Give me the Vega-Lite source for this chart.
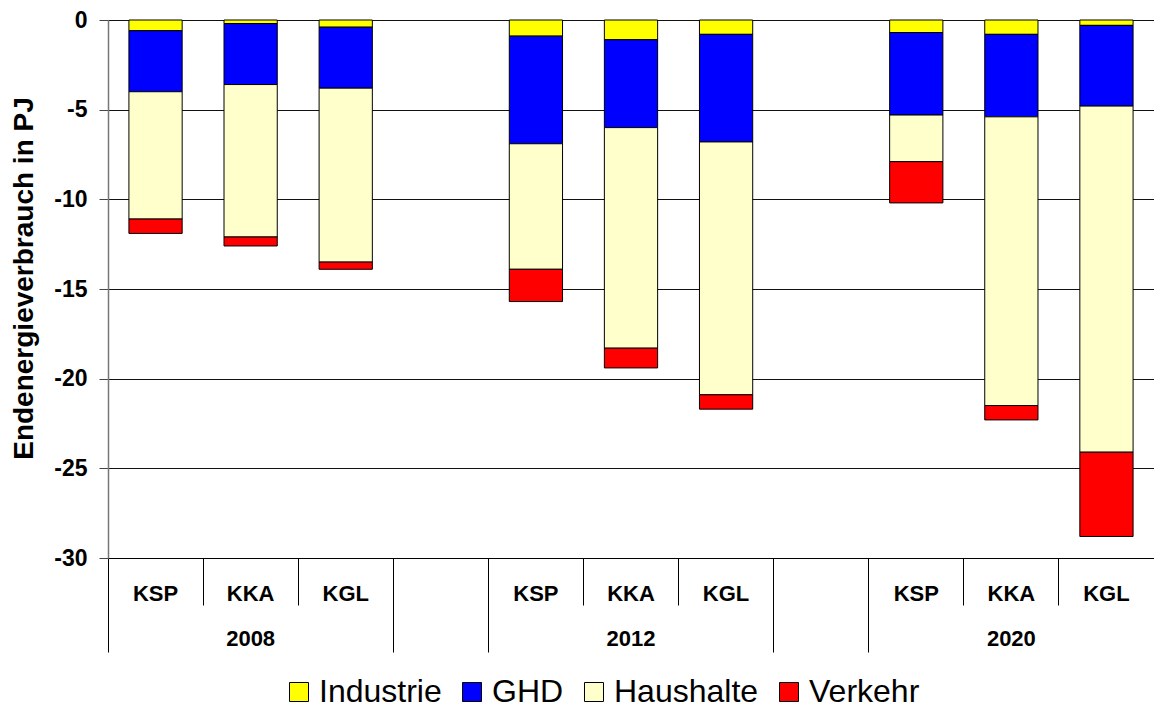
{
  "$schema": "https://vega.github.io/schema/vega-lite/v6.json",
  "width": 1046,
  "height": 538,
  "autosize": {"type": "none"},
  "padding": {"left": 108, "top": 20, "right": 0, "bottom": 149},
  "background": "white",
  "config": {
    "view": {"stroke": null},
    "font": "Liberation Sans",
    "axis": {"labelFont": "Liberation Sans", "titleFont": "Liberation Sans"}
  },
  "data": {
    "values": [
      {"slot": "2008 KSP", "sector": "Industrie", "ord": 1, "value": -0.6},
      {"slot": "2008 KSP", "sector": "GHD", "ord": 2, "value": -3.4},
      {"slot": "2008 KSP", "sector": "Haushalte", "ord": 3, "value": -7.1},
      {"slot": "2008 KSP", "sector": "Verkehr", "ord": 4, "value": -0.8},
      {"slot": "2008 KKA", "sector": "Industrie", "ord": 1, "value": -0.2},
      {"slot": "2008 KKA", "sector": "GHD", "ord": 2, "value": -3.4},
      {"slot": "2008 KKA", "sector": "Haushalte", "ord": 3, "value": -8.5},
      {"slot": "2008 KKA", "sector": "Verkehr", "ord": 4, "value": -0.5},
      {"slot": "2008 KGL", "sector": "Industrie", "ord": 1, "value": -0.4},
      {"slot": "2008 KGL", "sector": "GHD", "ord": 2, "value": -3.4},
      {"slot": "2008 KGL", "sector": "Haushalte", "ord": 3, "value": -9.7},
      {"slot": "2008 KGL", "sector": "Verkehr", "ord": 4, "value": -0.4},
      {"slot": "2012 KSP", "sector": "Industrie", "ord": 1, "value": -0.9},
      {"slot": "2012 KSP", "sector": "GHD", "ord": 2, "value": -6.0},
      {"slot": "2012 KSP", "sector": "Haushalte", "ord": 3, "value": -7.0},
      {"slot": "2012 KSP", "sector": "Verkehr", "ord": 4, "value": -1.8},
      {"slot": "2012 KKA", "sector": "Industrie", "ord": 1, "value": -1.1},
      {"slot": "2012 KKA", "sector": "GHD", "ord": 2, "value": -4.9},
      {"slot": "2012 KKA", "sector": "Haushalte", "ord": 3, "value": -12.3},
      {"slot": "2012 KKA", "sector": "Verkehr", "ord": 4, "value": -1.1},
      {"slot": "2012 KGL", "sector": "Industrie", "ord": 1, "value": -0.8},
      {"slot": "2012 KGL", "sector": "GHD", "ord": 2, "value": -6.0},
      {"slot": "2012 KGL", "sector": "Haushalte", "ord": 3, "value": -14.1},
      {"slot": "2012 KGL", "sector": "Verkehr", "ord": 4, "value": -0.8},
      {"slot": "2020 KSP", "sector": "Industrie", "ord": 1, "value": -0.7},
      {"slot": "2020 KSP", "sector": "GHD", "ord": 2, "value": -4.6},
      {"slot": "2020 KSP", "sector": "Haushalte", "ord": 3, "value": -2.6},
      {"slot": "2020 KSP", "sector": "Verkehr", "ord": 4, "value": -2.3},
      {"slot": "2020 KKA", "sector": "Industrie", "ord": 1, "value": -0.8},
      {"slot": "2020 KKA", "sector": "GHD", "ord": 2, "value": -4.6},
      {"slot": "2020 KKA", "sector": "Haushalte", "ord": 3, "value": -16.1},
      {"slot": "2020 KKA", "sector": "Verkehr", "ord": 4, "value": -0.8},
      {"slot": "2020 KGL", "sector": "Industrie", "ord": 1, "value": -0.3},
      {"slot": "2020 KGL", "sector": "GHD", "ord": 2, "value": -4.5},
      {"slot": "2020 KGL", "sector": "Haushalte", "ord": 3, "value": -19.3},
      {"slot": "2020 KGL", "sector": "Verkehr", "ord": 4, "value": -4.7}
    ]
  },
  "resolve": {"axis": {"x": "independent"}},
  "layer": [
    {
      "mark": {"type": "bar", "stroke": "black", "strokeWidth": 1, "width": {"band": 0.56}},
      "encoding": {
        "x": {
          "field": "slot",
          "type": "nominal",
          "sort": null,
          "scale": {
            "domain": ["2008 KSP", "2008 KKA", "2008 KGL", "gap1", "2012 KSP", "2012 KKA", "2012 KGL", "gap2", "2020 KSP", "2020 KKA", "2020 KGL"],
            "paddingInner": 0,
            "paddingOuter": 0
          },
          "axis": {
            "title": null,
            "orient": "bottom",
            "labelAngle": 0,
            "labelExpr": "indexof(datum.value, 'gap') >= 0 ? '' : split(datum.value, ' ')[1]",
            "labelFontSize": 22,
            "labelFontWeight": "bold",
            "labelColor": "black",
            "labelPadding": -22,
            "labelBaseline": "top",
            "bandPosition": 0,
            "tickSize": 47,
            "tickColor": "black",
            "tickWidth": 1,
            "domain": true,
            "domainColor": "black",
            "domainWidth": 1,
            "grid": false
          }
        },
        "y": {
          "field": "value",
          "type": "quantitative",
          "stack": "zero",
          "scale": {"domain": [-30, 0], "nice": false},
          "axis": {
            "title": "Endenergieverbrauch in PJ",
            "titleFontSize": 28,
            "titleFontWeight": "bold",
            "titleColor": "black",
            "titleX": -70,
            "titleY": 258,
            "titleBaseline": "bottom",
            "values": [-30, -25, -20, -15, -10, -5, 0],
            "labelExpr": "datum.value == 0 ? '0' : '-' + abs(datum.value)",
            "labelFontSize": 23,
            "labelFontWeight": "bold",
            "labelColor": "black",
            "labelPadding": 12,
            "tickSize": 9,
            "tickColor": "#444444",
            "domainColor": "#777777",
            "domainWidth": 1.5,
            "grid": true,
            "gridColor": "#111111",
            "gridWidth": 1
          }
        },
        "color": {
          "field": "sector",
          "type": "nominal",
          "scale": {
            "domain": ["Industrie", "GHD", "Haushalte", "Verkehr"],
            "range": ["#FFFF00", "#0000FF", "#FFFFCC", "#FF0000"]
          },
          "legend": {
            "title": null,
            "orient": "none",
            "legendX": 175,
            "legendY": 656,
            "direction": "horizontal",
            "symbolType": "square",
            "symbolSize": 361,
            "symbolStrokeColor": "black",
            "symbolStrokeWidth": 1,
            "symbolOpacity": 1,
            "labelFontSize": 32,
            "labelFont": "Liberation Sans",
            "labelColor": "black",
            "labelOffset": 4,
            "labelLimit": 300,
            "columnPadding": 14,
            "padding": 0
          }
        },
        "order": {"field": "ord", "type": "quantitative"}
      }
    },
    {
      "mark": {"type": "point", "opacity": 0},
      "encoding": {
        "x": {
          "field": "slot",
          "type": "nominal",
          "sort": null,
          "scale": {
            "domain": ["2008 KSP", "2008 KKA", "2008 KGL", "gap1", "2012 KSP", "2012 KKA", "2012 KGL", "gap2", "2020 KSP", "2020 KKA", "2020 KGL"],
            "paddingInner": 0,
            "paddingOuter": 0
          },
          "axis": {
            "title": null,
            "orient": "bottom",
            "labelAngle": 0,
            "labelExpr": "indexof(datum.value, 'KKA') >= 0 ? split(datum.value, ' ')[0] : ''",
            "labelFontSize": 22,
            "labelFontWeight": "bold",
            "labelColor": "black",
            "labelPadding": -24,
            "labelBaseline": "top",
            "bandPosition": 0,
            "tickSize": 94,
            "tickWidth": 1,
            "tickColor": {
              "condition": {"test": "indexof(datum.value, 'KSP') >= 0 || indexof(datum.value, 'gap') >= 0", "value": "black"},
              "value": "transparent"
            },
            "domain": false,
            "grid": false
          }
        }
      }
    }
  ]
}
